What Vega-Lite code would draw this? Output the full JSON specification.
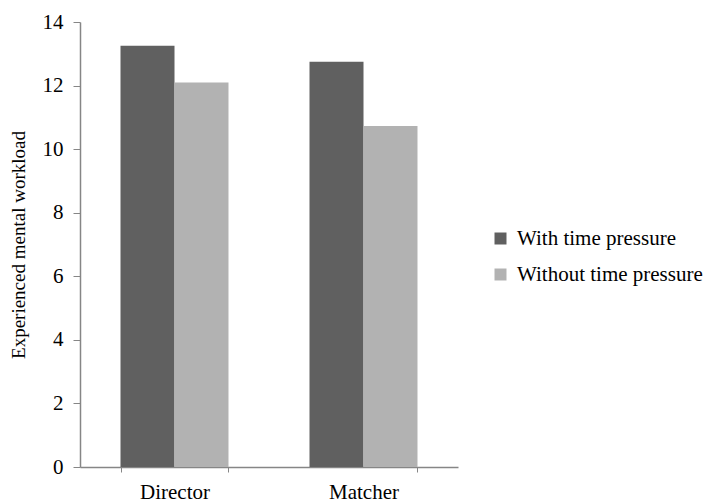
{
  "$schema": "https://vega.github.io/schema/vega-lite/v6.json",
  "autosize": "none",
  "width": 378,
  "height": 445,
  "padding": {"left": 80, "top": 22, "right": 246, "bottom": 36},
  "background": "white",
  "config": {
    "font": "Liberation Serif",
    "view": {"stroke": null},
    "axis": {"labelFont": "Liberation Serif", "titleFont": "Liberation Serif", "labelColor": "#000", "titleColor": "#000", "domainColor": "#868686", "tickColor": "#868686", "grid": false},
    "legend": {"labelFont": "Liberation Serif"}
  },
  "data": {
    "values": [
      {"role": "Director", "condition": "With time pressure", "workload": 13.25},
      {"role": "Director", "condition": "Without time pressure", "workload": 12.1},
      {"role": "Matcher", "condition": "With time pressure", "workload": 12.75},
      {"role": "Matcher", "condition": "Without time pressure", "workload": 10.73}
    ]
  },
  "mark": {"type": "bar"},
  "encoding": {
    "x": {
      "field": "role", "type": "nominal",
      "scale": {"paddingInner": 0.4286, "paddingOuter": 0.2143},
      "axis": {"title": null, "labelAngle": 0, "labelFontSize": 21, "labelPadding": 9, "tickBand": "extent", "tickSize": 5, "domainWidth": 1.5}
    },
    "xOffset": {"field": "condition", "type": "nominal", "sort": ["With time pressure", "Without time pressure"], "scale": {"paddingInner": 0, "paddingOuter": 0}},
    "y": {
      "field": "workload", "type": "quantitative",
      "scale": {"domain": [0, 14], "nice": false},
      "axis": {"title": "Experienced mental workload", "titleFontSize": 19, "titleFontWeight": "normal", "labelFontSize": 21, "values": [0, 2, 4, 6, 8, 10, 12, 14], "tickSize": 7, "labelPadding": 10, "titlePadding": 14, "domainWidth": 1.5}
    },
    "color": {
      "field": "condition", "type": "nominal",
      "sort": ["With time pressure", "Without time pressure"],
      "scale": {"range": ["#606060", "#b2b2b2"]},
      "legend": {"title": null, "orient": "none", "legendX": 410, "legendY": 206, "symbolType": "square", "symbolSize": 144, "symbolStrokeWidth": 0, "labelFontSize": 21, "labelFont": "Liberation Serif", "labelColor": "#000", "labelLimit": 400, "rowPadding": 14, "labelOffset": 6}
    }
  }
}
